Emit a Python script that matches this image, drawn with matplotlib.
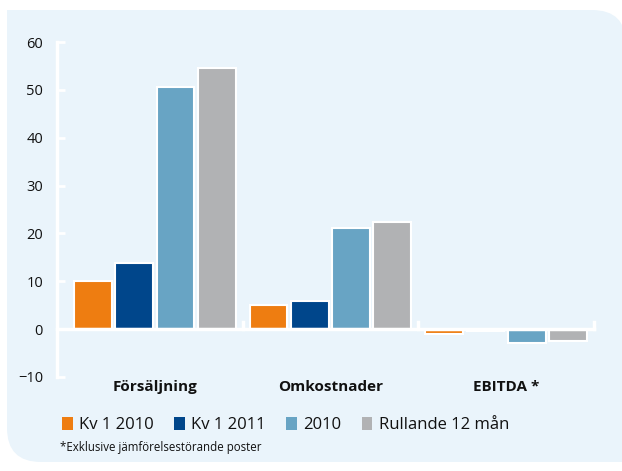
import matplotlib.pyplot as plt
import numpy as np
from matplotlib.path import Path
from matplotlib.patches import PathPatch, Rectangle

plt.rcParams['font.family'] = ['Open Sans', 'DejaVu Sans']

categories = ["Försäljning", "Omkostnader", "EBITDA *"]
series = ["Kv 1 2010", "Kv 1 2011", "2010", "Rullande 12 mån"]
kv1_2010 = [10.0, 5.0, -1.0]
kv1_2011 = [13.8, 5.8, -0.4]
helar_2010 = [50.6, 21.1, -2.9]
rullande = [54.5, 22.3, -2.4]
colors = ["#EE7D11", "#00468B", "#68A4C4", "#B1B2B4"]
bg = "#EAF4FB"

W, H = 622, 471
fig = plt.figure(figsize=(W / 100, H / 100), dpi=100)
fig.patch.set_facecolor("white")

# panel with rounded top-right and bottom-left corners (pixel coords -> figure fraction)
def fx(x):
    return x / W

def fy(y):
    return 1 - y / H

r = 34
x0, y0, x1, y1 = 7, 10, 626, 462
verts = [
    (fx(x0), fy(y0)),
    (fx(x1 - r), fy(y0)),
    (fx(x1), fy(y0)), (fx(x1), fy(y0 + r)),
    (fx(x1), fy(y1)),
    (fx(x0 + r), fy(y1)),
    (fx(x0), fy(y1)), (fx(x0), fy(y1 - r)),
    (fx(x0), fy(y0)),
]
codes = [Path.MOVETO, Path.LINETO, Path.CURVE3, Path.CURVE3, Path.LINETO,
         Path.LINETO, Path.CURVE3, Path.CURVE3, Path.CLOSEPOLY]
fig.patches.append(PathPatch(Path(verts, codes), facecolor=bg, edgecolor="none",
                             transform=fig.transFigure, zorder=-5))

ax = fig.add_axes([57 / W, 1 - 377 / H, (595 - 57) / W, (377 - 42) / H])
ax.set_facecolor("none")

x = np.arange(len(categories))
slot = 0.235
width = 0.215
for i, vals in enumerate([kv1_2010, kv1_2011, helar_2010, rullande]):
    ax.bar(x + (i - 1.5) * slot, vals, width, color=colors[i], edgecolor="white",
           linewidth=1.5, zorder=2)

ax.set_ylim(-10, 60)
ax.set_xlim(-0.558, 2.507)
ax.set_yticks(range(-10, 61, 10))
ax.tick_params(axis="y", direction="in", length=6, width=2, color="white",
               labelsize=10.5, pad=10, labelcolor="#111111")
for s in ["top", "right", "bottom"]:
    ax.spines[s].set_visible(False)
ax.spines["left"].set_color("white")
ax.spines["left"].set_linewidth(2.5)

# baseline and group separators
ax.plot([-0.558, 2.5], [0, 0], color="white", lw=2.5, zorder=3, clip_on=False)
for b in [0.5, 1.5, 2.5]:
    ax.plot([b, b], [0, 1.5], color="white", lw=2.5, zorder=3, clip_on=False)

ax.set_xticks(x)
ax.set_xticklabels(categories, fontsize=11, fontweight="bold", color="#111111")
ax.tick_params(axis="x", length=0, pad=2)

handles = [Rectangle((0, 0), 1, 1, facecolor=c, edgecolor="none") for c in colors]
fig.legend(handles, series, loc="upper left", bbox_to_anchor=(55 / W, 1 - 410 / H), ncol=4,
           frameon=False, fontsize=12, handlelength=0.65, handleheight=0.85,
           handletextpad=0.4, columnspacing=1.2, borderaxespad=0, labelcolor="#111111")
fig.text(60 / W, 1 - 447 / H, "*Exklusive jämförelsestörande poster",
         fontsize=8.3, va="center", color="#111111")

fig.savefig("out.png", dpi=100)
